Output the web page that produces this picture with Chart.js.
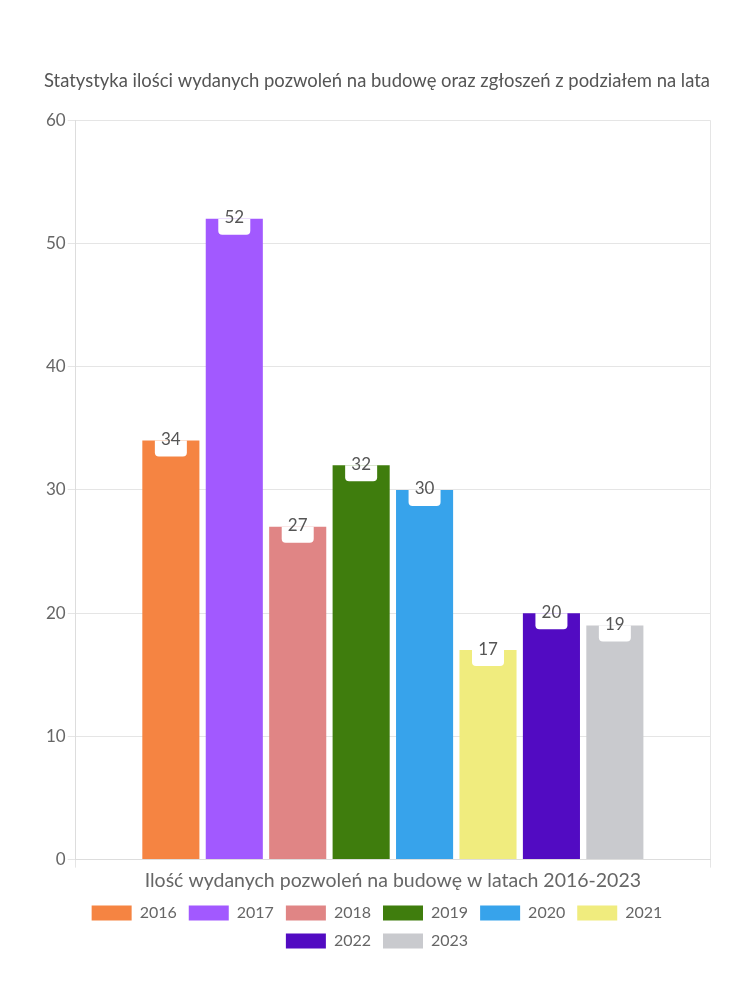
<!DOCTYPE html>
<html><head><meta charset="utf-8">
<script src="https://cdn.jsdelivr.net/npm/chart.js@4"></script>
<style>html,body{margin:0;padding:0;background:#fff}#wrap{width:750px;height:1000px}</style>
</head><body><div id="wrap"><canvas id="c" width="750" height="1000"></canvas></div>
<script>
const categories = ['Ilość wydanych pozwoleń na budowę w latach 2016-2023'];
const years = ['2016','2017','2018','2019','2020','2021','2022','2023'];
const values = [34, 52, 27, 32, 30, 17, 20, 19];
const colors = ['#F58442','#A259FF','#E08585','#3F7D0D','#37A3EB','#F0EC7E','#520BC2','#C9CACE'];
const yTicks = [0,10,20,30,40,50,60];
const titleText = 'Statystyka ilości wydanych pozwoleń na budowę oraz zgłoszeń z podziałem na lata';

const FONT = 'Lato, "Noto Sans", sans-serif';
Chart.defaults.font.family = FONT;
Chart.defaults.color = '#666';

const labelPlugin = {
  id: 'valLabels',
  afterDatasetsDraw(chart) {
    const ctx = chart.ctx;
    chart.data.datasets.forEach((ds, i) => {
      const meta = chart.getDatasetMeta(i);
      meta.data.forEach((bar, j) => {
        const v = ds.data[j];
        const w = 32, h = 16, r = 4;
        const x = bar.x - w/2, y = bar.y;
        ctx.save();
        ctx.fillStyle = '#fff';
        ctx.beginPath();
        ctx.moveTo(x, y);
        ctx.lineTo(x + w, y);
        ctx.lineTo(x + w, y + h - r);
        ctx.quadraticCurveTo(x + w, y + h, x + w - r, y + h);
        ctx.lineTo(x + r, y + h);
        ctx.quadraticCurveTo(x, y + h, x, y + h - r);
        ctx.closePath();
        ctx.fill();
        ctx.fillStyle = '#555';
        ctx.font = '17px ' + FONT;
        ctx.textAlign = 'center';
        ctx.textBaseline = 'middle';
        ctx.fillText(String(v), bar.x, y - 1);
        ctx.restore();
      });
    });
  }
};

new Chart(document.getElementById('c'), {
  type: 'bar',
  data: {
    labels: categories,
    datasets: years.map((y, i) => ({
      label: y,
      data: [values[i]],
      backgroundColor: colors[i],
      borderWidth: 0,
      categoryPercentage: 0.8,
      barPercentage: 0.9
    }))
  },
  options: {
    responsive: false,
    animation: false,
    layout: { padding: { top: 70, right: 40, left: 44, bottom: 41 } },
    plugins: {
      title: { display: true, text: titleText, color: '#555', font: { size: 18.5, weight: 'normal' }, padding: { top: 0, bottom: 28 } },
      legend: {
        position: 'bottom',
        labels: { boxWidth: 40, boxHeight: 15, color: '#666', font: { size: 16 }, padding: 12 }
      },
      tooltip: { enabled: false }
    },
    scales: {
      x: {
        offset: true,
        grid: { color: '#e5e5e5', offset: true, tickLength: 8 },
        border: { color: '#ddd' },
        ticks: { color: '#666', font: { size: 19.5 }, padding: 1 }
      },
      y: {
        min: 0, max: 60,
        afterBuildTicks: (s) => { s.ticks = yTicks.map(v => ({ value: v })); },
        grid: { color: '#e5e5e5', tickLength: 8 },
        border: { color: '#ddd' },
        ticks: { color: '#666', font: { size: 17 }, padding: 2 }
      }
    }
  },
  plugins: [labelPlugin]
});
</script></body></html>
